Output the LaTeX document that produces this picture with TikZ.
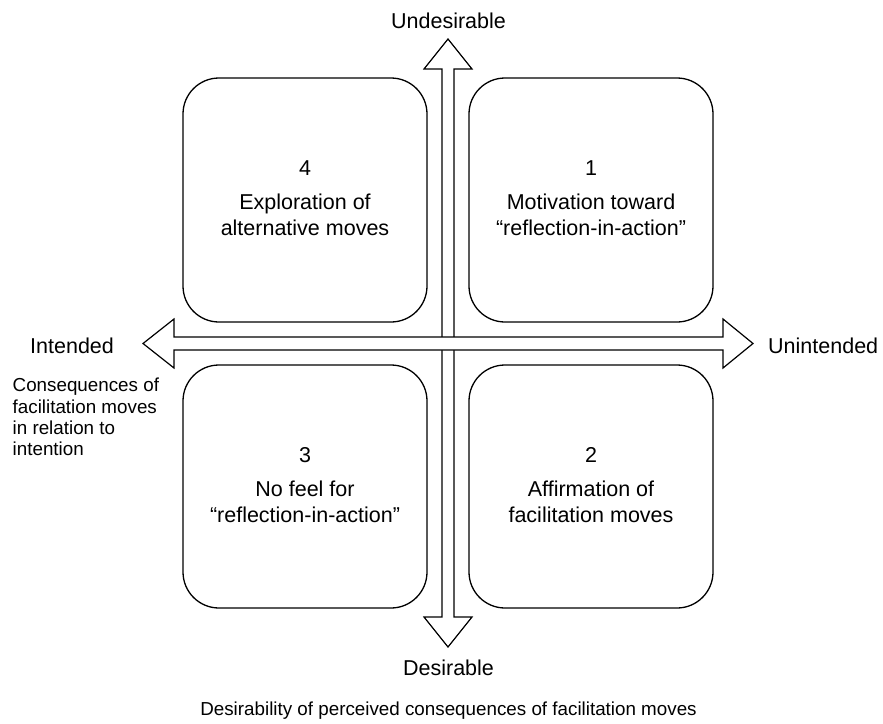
\documentclass[tikz,border=0pt]{standalone}
\usepackage{fontspec}
\setmainfont{Liberation Sans}
\begin{document}
\begin{tikzpicture}[x=1pt,y=-1pt,
  quad/.style={draw, line width=1.3pt, rounded corners=36pt, fill=white},
  dblarrow/.style={draw, line width=1.2pt, fill=white, line join=miter},
  boxtext/.style={align=center, inner sep=0pt, font=\fontsize{21.5}{26}\selectfont},
  axislabel/.style={inner sep=0pt, font=\fontsize{21.5}{26}\selectfont},
  smalllabel/.style={inner sep=0pt, font=\fontsize{18.8}{21.3}\selectfont}]
\useasboundingbox (0,0) rectangle (883,723);

% quadrant boxes
\draw[quad] (183,78) rectangle (427,322);
\draw[quad] (469,78) rectangle (713,322);
\draw[quad] (183,365) rectangle (427,608);
\draw[quad] (469,365) rectangle (713,608);

\node[boxtext] (q4) at (305,198.7) {4\\[8pt]Exploration of\\alternative moves};
\node[boxtext] (q1) at (591,198.7) {1\\[8pt]Motivation toward\\“reflection-in-action”};
\node[boxtext] (q3) at (305,485.2) {3\\[8pt]No feel for\\“reflection-in-action”};
\node[boxtext] (q2) at (591,485.2) {2\\[8pt]Affirmation of\\facilitation moves};

% vertical double arrow
\draw[dblarrow] (442,69) -- (424,69) -- (448,39) -- (472,69) -- (454,69)
  -- (454,617) -- (472,617) -- (448,647) -- (424,617) -- (442,617) -- cycle;
% horizontal double arrow
\draw[dblarrow] (174,337) -- (174,319) -- (143,343.5) -- (174,368) -- (174,350)
  -- (723,350) -- (723,368) -- (753,343.5) -- (723,319) -- (723,337) -- cycle;

% axis labels
\node[axislabel, anchor=base] (undes) at (448.5,28) {Undesirable};
\node[axislabel, anchor=base] (des) at (448.5,675) {Desirable};
\node[axislabel, anchor=base west] (int) at (30,353) {Intended};
\node[axislabel, anchor=base west] (unint) at (768,353) {Unintended};

\node[smalllabel, align=left, anchor=north west] (conseq) at (12.5,378)
  {Consequences of\\facilitation moves\\in relation to\\intention};
\node[smalllabel, anchor=base] (desir) at (448.5,715.5)
  {Desirability of perceived consequences of facilitation moves};
\end{tikzpicture}
\end{document}
